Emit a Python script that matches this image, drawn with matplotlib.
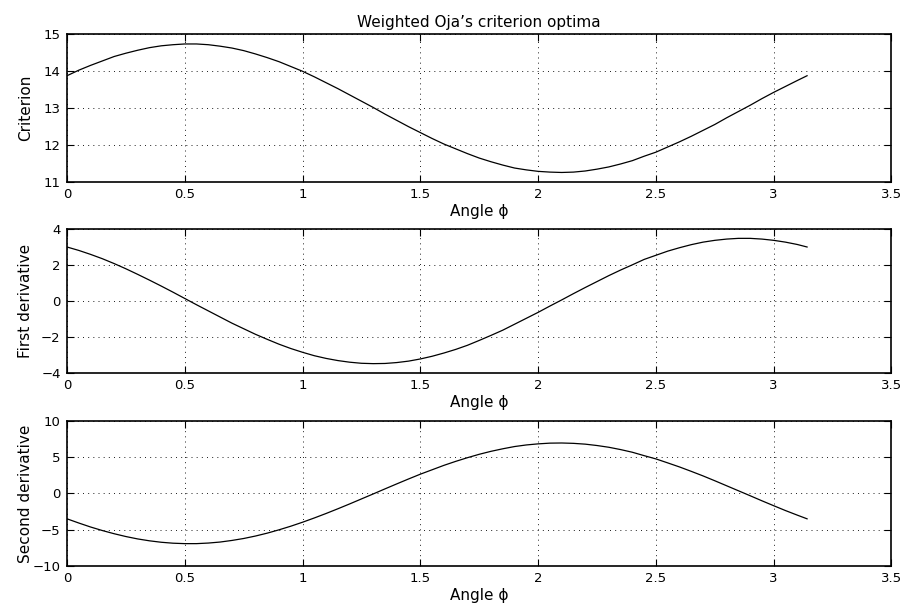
import matplotlib
matplotlib.use('Agg')
import matplotlib.pyplot as plt

# angle samples (0 .. pi) and the three curves read at each one
phi = [0.0, 0.05, 0.1, 0.15, 0.2, 0.25, 0.3, 0.35, 0.4, 0.45,
       0.5, 0.55, 0.6, 0.65, 0.7, 0.75, 0.8, 0.85, 0.9, 0.95,
       1.0, 1.05, 1.1, 1.15, 1.2, 1.25, 1.3, 1.35, 1.4, 1.45,
       1.5, 1.55, 1.6, 1.65, 1.7, 1.75, 1.8, 1.85, 1.9, 1.95,
       2.0, 2.05, 2.1, 2.15, 2.2, 2.25, 2.3, 2.35, 2.4, 2.45,
       2.5, 2.55, 2.6, 2.65, 2.7, 2.75, 2.8, 2.85, 2.9, 2.95,
       3.0, 3.05, 3.1, 3.1416]

criterion = [13.87, 14.02, 14.15, 14.27, 14.39, 14.48, 14.56, 14.63, 14.68, 14.71,
             14.73, 14.73, 14.71, 14.67, 14.62, 14.55, 14.46, 14.36, 14.25, 14.12,
             13.99, 13.84, 13.68, 13.52, 13.35, 13.18, 13.01, 12.83, 12.66, 12.49,
             12.33, 12.17, 12.02, 11.89, 11.76, 11.64, 11.54, 11.45, 11.37, 11.32,
             11.28, 11.26, 11.25, 11.26, 11.29, 11.34, 11.40, 11.48, 11.57, 11.69,
             11.80, 11.94, 12.08, 12.23, 12.39, 12.55, 12.73, 12.90, 13.07, 13.25,
             13.42, 13.58, 13.74, 13.87]

first_deriv = [3.00, 2.81, 2.59, 2.35, 2.08, 1.79, 1.48, 1.16, 0.83, 0.49,
               0.14, -0.21, -0.55, -0.89, -1.23, -1.54, -1.85, -2.13, -2.40, -2.64,
               -2.85, -3.04, -3.19, -3.31, -3.40, -3.46, -3.48, -3.47, -3.42, -3.34,
               -3.22, -3.07, -2.89, -2.69, -2.46, -2.19, -1.91, -1.62, -1.29, -0.96,
               -0.63, -0.28, 0.06, 0.41, 0.75, 1.08, 1.41, 1.72, 2.01, 2.31,
               2.54, 2.77, 2.96, 3.13, 3.27, 3.37, 3.44, 3.48, 3.48, 3.44,
               3.37, 3.27, 3.14, 3.00]

second_deriv = [-3.52, -4.10, -4.65, -5.14, -5.58, -5.97, -6.30, -6.56, -6.76, -6.89,
                -6.95, -6.95, -6.87, -6.73, -6.51, -6.24, -5.90, -5.50, -5.04, -4.54,
                -3.99, -3.40, -2.78, -2.13, -1.46, -0.77, -0.08, 0.62, 1.31, 1.99,
                2.65, 3.26, 3.87, 4.42, 4.93, 5.40, 5.81, 6.16, 6.47, 6.69,
                6.84, 6.94, 6.96, 6.91, 6.80, 6.61, 6.37, 6.05, 5.68, 5.21,
                4.76, 4.21, 3.65, 3.04, 2.41, 1.74, 1.05, 0.36, -0.33, -1.03,
                -1.71, -2.38, -3.01, -3.52]

x_ticks = [0, 0.5, 1, 1.5, 2, 2.5, 3, 3.5]
x_tick_labels = ['0', '0.5', '1', '1.5', '2', '2.5', '3', '3.5']

y_ticks_1 = [11, 12, 13, 14, 15]
y_ticks_2 = [-4, -2, 0, 2, 4]
y_ticks_3 = [-10, -5, 0, 5, 10]

ylabels = ['Criterion', 'First derivative', 'Second derivative']
xlabel = 'Angle ϕ'
title = "Weighted Oja’s criterion optima"

plt.rcParams['font.family'] = ['DejaVu Sans']
plt.rcParams['axes.linewidth'] = 1.2

fig = plt.figure(figsize=(9.03, 6.05), dpi=100)
fig.patch.set_facecolor('white')

W, H = 903.0, 605.0
left = 67 / W
width = (891.5 - 67) / W
boxes = [(34, 181.7), (229, 373), (421, 565.7)]

series = [criterion, first_deriv, second_deriv]
yticks = [y_ticks_1, y_ticks_2, y_ticks_3]

axes = []
for i, (top, bottom) in enumerate(boxes):
    ax = fig.add_axes([left, 1 - bottom / H, width, (bottom - top) / H])
    ax.plot(phi, series[i], color='black', linewidth=0.9)
    ax.set_xlim(0, 3.5)
    ax.set_ylim(yticks[i][0], yticks[i][-1])
    ax.set_xticks(x_ticks)
    ax.set_xticklabels(x_tick_labels)
    ax.set_yticks(yticks[i])
    ax.grid(True, color='black', linestyle=(0, (1.2, 5)), linewidth=0.6)
    ax.tick_params(direction='in', top=True, right=True, length=5, width=0.8,
                   labelsize=9.5, pad=4.5)
    ax.set_xlabel(xlabel, fontsize=11, labelpad=2)
    ax.set_ylabel(ylabels[i], fontsize=11)
    ax.yaxis.set_label_coords(-0.041, 0.5)
    axes.append(ax)

axes[0].set_title(title, fontsize=11, pad=5)

fig.savefig('out.png', dpi=100)
